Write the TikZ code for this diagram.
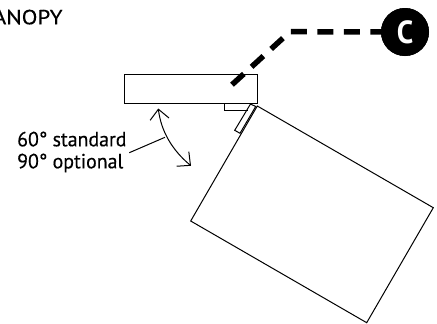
\documentclass[tikz,border=0pt]{standalone}
\usepackage{fontspec}
\setmainfont[FakeBold=0.4,FakeStretch=0.97]{PT Sans}
\newfontfamily\headfont[FakeBold=0.4,FakeStretch=1.12]{PT Sans}
\newfontfamily\badgefont[FakeStretch=0.92]{PT Sans Bold}
\usetikzlibrary{arrows.meta}
\tikzset{
  outline/.style={draw=black,line width=1pt,fill=white,line join=miter},
  thinline/.style={draw=black,line width=1pt},
  callout/.style={draw=black,line width=5.5pt,dash pattern=on 16pt off 10.5pt},
  badge/.style={circle,fill=black,text=white,minimum size=48pt,inner sep=0pt,font=\fontsize{32}{32}\badgefont},
  lbl/.style={font=\fontsize{20.5}{22}\selectfont,align=left,inner sep=0pt,anchor=north west,text=black},
  head/.style={font=\fontsize{20.5}{22}\headfont,inner sep=0pt,anchor=base east,text=black},
  swing/.style={draw=black,line width=1pt,{Straight Barb[length=10pt,width=19pt]}-{Straight Barb[length=10pt,width=19pt]}}
}
\begin{document}
\begin{tikzpicture}[x=1pt,y=-1pt]
\useasboundingbox (0,0) rectangle (437,324);
% panel
\draw[outline] (257.3,106) -- (433.3,207.7) -- (366.7,322.7) -- (190.7,221) -- cycle;
% hinge strip
\draw[outline] (250.5,104) -- (255.7,106.5) -- (240,133.3) -- (234.7,130.3) -- cycle;
% bracket
\draw[thinline] (224.4,103.5) -- (224.4,110.7) -- (248,110.7);
% housing
\draw[outline,fill=none] (124.5,74.5) rectangle (257,103.5);
% badge and callout
\node[badge] (c) at (405,32) {C};
\coordinate (bend) at (290,31.7);
\coordinate (start) at (232,84.7);
\draw[callout] (start) -- (bend) -- (c.center);
\node[badge] at (c) {C};
% angle arrow
\coordinate (a1) at (158.3,108.5);
\coordinate (a2) at (191,165.8);
\draw[swing] (a1) .. controls (161,131) and (172,150) .. (a2);
% leader
\coordinate (l1) at (129.3,152.7);
\coordinate (l2) at (165,137.3);
\draw[thinline] (l1) -- (l2);
% labels
\node[lbl] (std) at (17,131.5) {60° standard\\90° optional};
\node[head] (can) at (62.7,24.3) {ANOPY};
\end{tikzpicture}
\end{document}
